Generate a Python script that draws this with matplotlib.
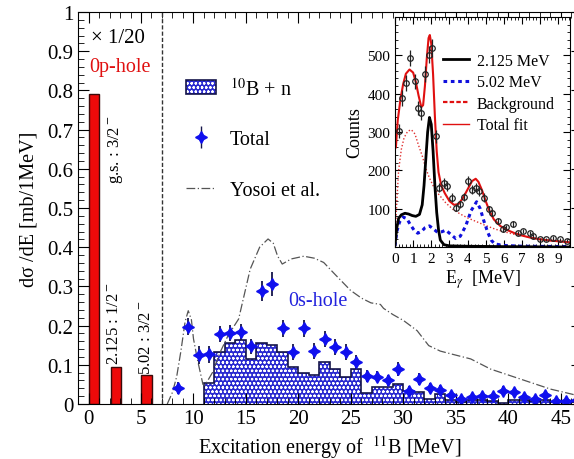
import matplotlib
matplotlib.use("Agg")
import matplotlib.pyplot as plt
import numpy as np
from matplotlib.patches import Patch
from matplotlib.lines import Line2D
from matplotlib.ticker import MultipleLocator
from matplotlib.legend_handler import HandlerTuple

plt.rcParams['font.family'] = ['Liberation Serif', 'DejaVu Serif']
plt.rcParams['mathtext.fontset'] = 'stix'
plt.rcParams['hatch.linewidth'] = 0.6

# discrete levels (x 1/20), left edge = level energy
lev_e = [0.0, 2.125, 5.02]
lev_val = [0.79, 0.095, 0.075]
lev_lab = [r"g.s. : 3/2$^-$", r"2.125 : 1/2$^-$", r"5.02 : 3/2$^-$"]

# 10B + n histogram, 1 MeV bins from 11 to 47 MeV
b10n_edges = np.arange(11, 48, 1)
b10n_val = [0.053, 0.133, 0.155, 0.164, 0.115, 0.156, 0.150, 0.132, 0.095, 0.080,
            0.075, 0.107, 0.089, 0.069, 0.090, 0.028, 0.043, 0.043, 0.051, 0.034,
            0.031, 0.013, 0.026, 0.009, 0.005, 0.010, 0.010, 0.008, 0.002, 0.010,
            0.010, 0.008, 0.010, 0.005, 0.005, 0.006]

# total
tot_e = np.arange(8.5, 47, 1.0)
tot_val = [0.040, 0.197, 0.125, 0.127, 0.179, 0.181, 0.184, 0.147, 0.289, 0.306,
           0.193, 0.133, 0.193, 0.136, 0.166, 0.145, 0.133, 0.107, 0.071, 0.070,
           0.060, 0.089, 0.034, 0.064, 0.042, 0.036, 0.023, 0.013, 0.017, 0.021,
           0.020, 0.034, 0.030, 0.017, 0.013, 0.023, 0.007, 0.007, 0.011]
tot_err = [0.015, 0.022, 0.022, 0.022, 0.02, 0.02, 0.02, 0.02, 0.025, 0.03,
           0.022, 0.02, 0.022, 0.02, 0.02, 0.02, 0.02, 0.018, 0.015, 0.015,
           0.015, 0.018, 0.012, 0.015, 0.012, 0.012, 0.01, 0.01, 0.01, 0.01,
           0.01, 0.012, 0.012, 0.01, 0.01, 0.01, 0.008, 0.008, 0.008]

# Yosoi et al.
yos_e = [7.5, 8.0, 8.4, 8.8, 9.2, 9.5, 9.8, 10.0, 10.4, 10.9, 11.1, 11.8, 12.5, 13.3,
         14.3, 15.4, 16.3, 17.1, 17.6, 18.0, 18.45, 19.3, 20.5, 21.5, 22.4, 23.5,
         24.95, 26.0, 26.9, 27.8, 28.1, 29.0, 30.0, 31.3, 32.4, 33.5, 34.5, 36.4,
         38.3, 40.2, 42.1, 44.0, 45.9, 46.8]
yos_val = [0.0, 0.03, 0.07, 0.135, 0.21, 0.238, 0.215, 0.166, 0.11, 0.05, 0.048,
           0.08, 0.13, 0.175, 0.217, 0.344, 0.40, 0.421, 0.41, 0.378, 0.357, 0.37,
           0.377, 0.372, 0.361, 0.33, 0.29, 0.27, 0.258, 0.254, 0.244, 0.228, 0.213,
           0.187, 0.149, 0.135, 0.128, 0.115, 0.089, 0.072, 0.055, 0.038, 0.026, 0.02]

# inset: gamma spectrum
g_e = [0.24, 0.41, 0.61, 0.83, 1.08, 1.26, 1.45, 1.67, 1.86, 2.04, 2.28, 2.45, 2.71,
       2.88, 3.15, 3.34, 3.56, 3.8, 4.04, 4.27, 4.45, 4.64, 4.92, 5.16, 5.34, 5.66,
       5.94, 6.12, 6.49, 6.77, 7.05, 7.42, 7.61, 7.98, 8.35, 8.72, 9.09, 9.46]
g_cnt = [302, 389, 428, 493, 432, 363, 350, 451, 502, 519, 289, 155, 168, 159, 129,
         103, 111, 130, 172, 150, 155, 146, 129, 98, 90, 68, 46, 51, 61, 37, 42, 37,
         29, 20, 20, 24, 20, 16]
g_err = [18, 20, 20, 22, 20, 19, 19, 21, 22, 23, 17, 12, 13, 13, 11, 10, 10, 11, 13,
         12, 12, 12, 11, 10, 9, 8, 7, 7, 8, 6, 6, 6, 5, 4, 4, 5, 4, 4]

fit_e = [0.05, 0.15, 0.3, 0.45, 0.6, 0.8, 1.0, 1.15, 1.3, 1.45, 1.55, 1.65, 1.75, 1.85,
         1.92, 2.0, 2.1, 2.2, 2.3, 2.4, 2.55, 2.75, 3.0, 3.25, 3.5, 3.75, 4.0, 4.25,
         4.45, 4.6, 4.8, 5.0, 5.2, 5.45, 5.8, 6.2, 6.6, 7.0, 7.5, 8.0, 8.5, 9.0, 9.65]
fit_cnt = [260, 330, 385, 425, 452, 463, 455, 430, 395, 365, 370, 420, 490, 545, 553,
           530, 450, 340, 250, 195, 160, 140, 120, 110, 112, 128, 150, 172, 178, 170,
           148, 120, 95, 72, 55, 44, 36, 30, 24, 20, 17, 15, 12]

bg_e = [0.0, 0.1, 0.2, 0.35, 0.5, 0.7, 0.9, 1.1, 1.3, 1.5, 1.7, 1.9, 2.1, 2.4, 2.8,
        3.2, 3.6, 4.0, 4.5, 5.0, 5.5, 6.0, 6.5, 7.0, 7.5, 8.0, 8.5, 9.0, 9.65]
bg_cnt = [10, 120, 200, 255, 285, 302, 306, 295, 265, 238, 205, 180, 160, 138, 115,
          98, 86, 76, 66, 56, 47, 40, 34, 29, 25, 21, 18, 15, 12]

l2_e = [0.0, 0.1, 0.2, 0.35, 0.55, 0.75, 0.95, 1.15, 1.35, 1.5, 1.6, 1.7, 1.8, 1.9,
        2.0, 2.1, 2.2, 2.3, 2.4, 2.5, 2.7, 3.0, 4.0, 6.0, 9.65]
l2_cnt = [5, 50, 75, 84, 88, 86, 82, 80, 85, 110, 160, 230, 300, 338, 320, 250, 160,
          90, 45, 18, 6, 3, 2, 1, 0]

l5_e = [0.0, 0.1, 0.25, 0.45, 0.65, 0.85, 1.05, 1.25, 1.45, 1.65, 1.9, 2.1, 2.35,
        2.6, 2.8, 3.05, 3.35, 3.6, 3.9, 4.2, 4.5, 4.7, 4.9, 5.1, 5.3, 5.5, 6.0, 7.0,
        9.65]
l5_cnt = [3, 40, 65, 78, 74, 58, 44, 36, 40, 50, 55, 48, 38, 40, 44, 34, 22, 28, 55,
          95, 118, 100, 68, 40, 18, 8, 4, 2, 1]

blue_fill = '#2a2ad0'
navy = '#15154a'
star_blue = '#1010ee'

fig = plt.figure(figsize=(5.74, 4.6), dpi=100)
ax = fig.add_axes([78/574, 55/460, 504/574, 392/460])

# discrete levels
ax.bar(lev_e, lev_val, width=1.0, align='edge', color='#ee0a0a', edgecolor='#3a0a0a', lw=1.0)
ax.text(2.6, 0.65, lev_lab[0], rotation=90, ha='center', va='center', fontsize=12)
ax.text(2.45, 0.207, lev_lab[1], rotation=90, ha='center', va='center', fontsize=12)
ax.text(5.45, 0.171, lev_lab[2], rotation=90, ha='center', va='center', fontsize=12)

ax.axvline(7.0, color='#333333', ls=(0, (3, 1.5)), lw=1.0)

# 10B + n
ax.stairs(b10n_val, b10n_edges, fill=True, facecolor=blue_fill, edgecolor='white',
          hatch='oooo', lw=0)
ax.stairs(b10n_val, b10n_edges, baseline=0, color=navy, lw=1.2)

# Yosoi
yl, = ax.plot(yos_e, yos_val, color='#555555', lw=0.9, ls=(0, (7, 2, 1, 2)))

# total
ax.errorbar(tot_e, tot_val, yerr=tot_err, fmt='none', ecolor=navy, elinewidth=1.3)
ax.plot(tot_e, tot_val, ls='none', marker=(4, 1, 0), ms=8.5, color=star_blue)

ax.set_xlim(-1, 47)
ax.set_ylim(0, 1)
ax.xaxis.set_major_locator(MultipleLocator(5))
ax.xaxis.set_minor_locator(MultipleLocator(1))
ax.yaxis.set_minor_locator(MultipleLocator(0.02))
ax.set_yticks(np.arange(0, 1.01, 0.1))
ax.set_yticklabels(['0', '0.1', '0.2', '0.3', '0.4', '0.5', '0.6', '0.7', '0.8', '0.9', '1'])
ax.tick_params(which='both', direction='in', top=True, right=True, labelsize=15)
ax.tick_params(which='major', length=8)
ax.tick_params(which='minor', length=4)
ax.set_xlabel(r"Excitation energy of  $^{11}$B [MeV]", fontsize=14.5)
ax.set_ylabel(r"dσ /dE [mb/1MeV]", fontsize=14.5, labelpad=6)

ax.text(0.2, 0.936, "× 1/20", fontsize=15, va='center')
ax.text(0.1, 0.86, "0p-hole", fontsize=14.5, color='#e01010', va='center')
ax.text(19.0, 0.263, "0s-hole", fontsize=14.5, color='#2222dd', va='center')

h_hist = (Patch(facecolor=blue_fill, edgecolor='white', hatch='oooo', lw=0),
          Patch(facecolor='none', edgecolor=navy, lw=1.2))
h_tot = (Line2D([], [], color=navy, lw=1.3, marker='|', ms=16, ls='none'),
         Line2D([], [], ls='none', marker=(4, 1, 0), ms=8.5, color=star_blue))
ax.legend([h_hist, h_tot, yl], [r"$^{10}$B + n", "Total", "Yosoi et al."],
          handler_map={tuple: HandlerTuple(ndivide=1)},
          loc='upper left', bbox_to_anchor=(0.178, 0.88), frameon=False,
          fontsize=14.5, labelspacing=1.55, handlelength=1.5, handletextpad=0.7)

# inset
ins = fig.add_axes([395/574, 212/460, 175/574, 230/460])
ins.plot(bg_e, bg_cnt, color='#e03030', lw=1.0, ls=(0, (1, 1.5)))
ins.plot(l5_e, l5_cnt, color='#1010dd', lw=2.2, ls=(0, (1.2, 1.2)))
ins.plot(l2_e, l2_cnt, color='black', lw=2.0)
ins.plot(fit_e, fit_cnt, color='#e01010', lw=1.5)
ins.errorbar(g_e, g_cnt, yerr=g_err, fmt='o', ms=4, mfc='none', mec='#222222',
             ecolor='#222222', elinewidth=0.9, mew=0.9)
hl = [Line2D([], [], color='black', lw=2.0),
      Line2D([], [], color='#1010dd', lw=2.2, ls=(0, (1.2, 1.2))),
      Line2D([], [], color='#e01010', lw=1.6, ls=(0, (2, 1))),
      Line2D([], [], color='#e01010', lw=1.0)]
ins.legend(hl, ["2.125 MeV", "5.02 MeV", "Background", "Total fit"],
           loc='upper left', bbox_to_anchor=(0.23, 0.88), frameon=False,
           fontsize=11.5, labelspacing=0.35, handlelength=1.6, handletextpad=0.5,
           borderpad=0)
ins.set_xlim(0, 9.65)
ins.set_ylim(0, 600)
ins.xaxis.set_major_locator(MultipleLocator(1))
ins.xaxis.set_minor_locator(MultipleLocator(0.2))
ins.yaxis.set_minor_locator(MultipleLocator(20))
ins.set_yticks([100, 200, 300, 400, 500])
ins.tick_params(which='both', direction='in', top=True, right=True, labelsize=11)
ins.tick_params(which='major', length=5)
ins.tick_params(which='minor', length=2.5)
ins.set_xlabel(r"E$_{\gamma}$  [MeV]", fontsize=13, labelpad=2)
ins.set_ylabel("Counts", fontsize=13, labelpad=3)

fig.savefig("out.png", dpi=100)
